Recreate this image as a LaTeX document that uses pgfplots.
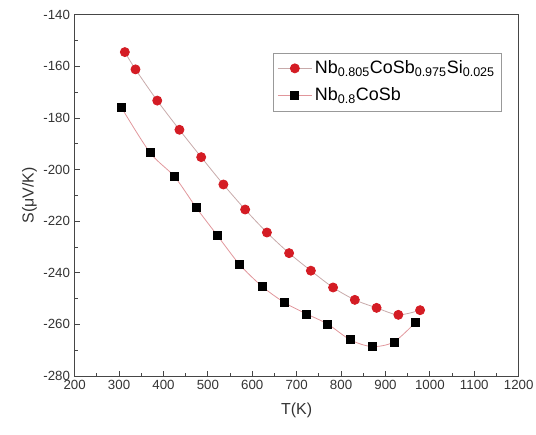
\documentclass[border=0pt]{standalone}
\usepackage{pgfplots}
\pgfplotsset{compat=1.18}
\usepackage{fontspec}
\setmainfont{Liberation Sans}
\definecolor{ptred}{RGB}{212,28,36}
\definecolor{lnred}{RGB}{225,150,155}
\definecolor{lngray}{RGB}{200,170,170}
\definecolor{axgray}{RGB}{70,70,70}
\begin{document}
\begin{tikzpicture}
\begin{axis}[
  scale only axis,
  width=333bp, height=271bp,
  xmin=200, xmax=1200, ymin=-280, ymax=-140,
  xtick={200,300,...,1200}, ytick={-280,-260,...,-140},
  minor x tick num=1, minor y tick num=1,
  tick align=inside, xtick pos=bottom, ytick pos=left,
  major tick length=4bp, minor tick length=2.5bp,
  axis line style={axgray, line width=0.7pt},
  tick style={axgray, line width=0.6pt},
  /pgf/number format/assume math mode=true,
  /pgf/number format/1000 sep={},
  ticklabel style={font=\fontsize{10}{12}\selectfont, text=black!80},
  xlabel={T(K)}, ylabel={S(μV/K)},
  label style={font=\fontsize{12}{14}\selectfont, text=black!80},
  xlabel style={yshift=-3bp},
  ylabel style={yshift=-2bp},
  legend style={at={(rel axis cs:0.962,0.895)}, anchor=north east,
    draw=black!40, font=\fontsize{13.5}{16}\selectfont, row sep=5bp,
    inner xsep=3bp, inner ysep=4bp},
  legend cell align=left,
  legend image code/.code={
    \draw[mark repeat=2,mark phase=2] plot coordinates {(0cm,0cm) (0.45cm,0cm) (0.9cm,0cm)};
  },
]
\addplot[lngray, line width=0.6pt, smooth, mark=*, mark size=3.4bp,
  mark options={fill=ptred, draw=ptred}] coordinates {
(313,-154.5) (337,-161.2) (386,-173.3) (436,-184.6) (485,-195.2)
(535,-205.8) (584,-215.5) (633,-224.4) (683,-232.4) (732,-239.2)
(782,-245.7) (831,-250.5) (880,-253.6) (929,-256.3) (978,-254.5)
};
\addlegendentry{Nb\textsubscript{0.805}CoSb\textsubscript{0.975}Si\textsubscript{0.025}}
\addplot[lnred, line width=0.6pt, smooth, mark=square*, mark size=3bp,
  mark options={fill=black, draw=black}] coordinates {
(305,-175.9) (370,-193.5) (425,-202.8) (474,-214.8) (522,-225.7)
(572,-236.9) (623,-245.4) (673,-251.6) (723,-256.0) (770,-259.9)
(821,-266.0) (870,-268.6) (919,-266.8) (967,-259.3)
};
\addlegendentry{Nb\textsubscript{0.8}CoSb}
\end{axis}
\path (current axis.south west) ++(-56bp,-44bp) coordinate (bbA);
\path (current axis.north east) ++(13bp,11bp) coordinate (bbB);
\pgfresetboundingbox
\useasboundingbox (bbA) rectangle (bbB);
\end{tikzpicture}
\end{document}
